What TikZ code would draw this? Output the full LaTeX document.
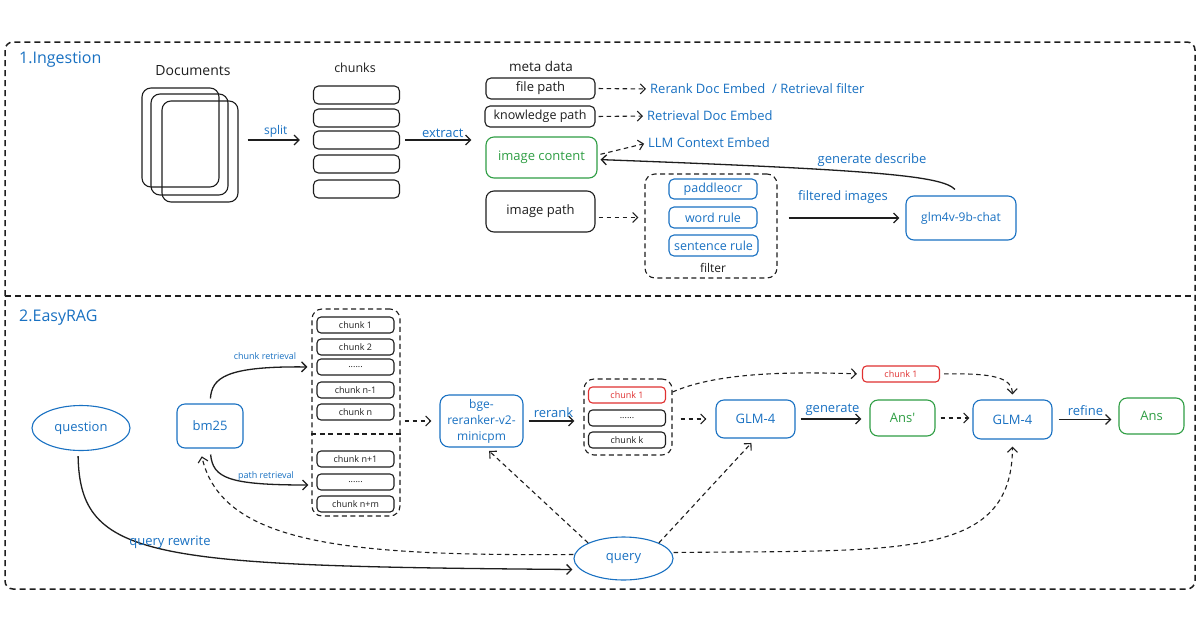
\documentclass[tikz,border=0pt]{standalone}
\usepackage{fontspec}
\setmainfont{Open Sans}
\usetikzlibrary{arrows.meta,shapes.geometric,calc}
\definecolor{eblue}{HTML}{1971C2}
\definecolor{egreen}{HTML}{2F9E44}
\definecolor{ered}{HTML}{E03131}
\definecolor{eink}{HTML}{1E1E1E}
\tikzset{
  fs/.style={font=\fontsize{#1}{#1}\selectfont},
  sz/.style 2 args={minimum width=#1pt, minimum height=#2pt},
  bx/.style={draw=eink, line width=1.1pt, rounded corners=5pt, inner sep=0pt, text=eink, fs=13},
  bbx/.style={bx, draw=eblue, text=eblue},
  gbx/.style={bx, draw=egreen, text=egreen},
  rbx/.style={bx, draw=ered, text=ered},
  ck/.style={bx, rounded corners=4pt, sz={77}{16}, fs=9},
  grp/.style={draw=eink, line width=1.1pt, dash pattern=on 5pt off 3.5pt, rounded corners=10pt, inner sep=0pt},
  lbl/.style={text=eblue, fs=13, inner sep=1pt},
  blk/.style={text=eink, fs=13, inner sep=1pt},
  arr/.style={draw=eink, line width=1.3pt, -{Straight Barb[length=5pt,width=10pt]}},
  darr/.style={draw=eink, line width=1.1pt, dash pattern=on 4.5pt off 3.5pt, -{Straight Barb[length=5pt,width=10pt]}},
}
\begin{document}
\begin{tikzpicture}[x=1pt,y=-1pt]
\useasboundingbox[fill=white] (0,0) rectangle (1200,630);
% outer frame
\draw[draw=eink, line width=1.5pt, dash pattern=on 6pt off 4pt, rounded corners=8pt] (5,42) rectangle (1195,589);
\draw[draw=eink, line width=1.5pt, dash pattern=on 6pt off 4pt] (5,296) -- (1195,296);
\node[lbl, fs=16, anchor=west] (t1) at (18,60) {1.Ingestion};
\node[lbl, fs=16, anchor=west] (t2) at (18,318) {2.EasyRAG};

% ---------- Ingestion ----------
\node[bx, sz={77}{99}, rounded corners=9pt] (d1) at (180.5,137.5) {};
\node[bx, sz={77}{101}, rounded corners=9pt] (d2) at (189.5,144.5) {};
\node[bx, sz={76}{101}, rounded corners=9pt] (d3) at (200,151.5) {};
\node[blk, fs=14] (doclbl) at (193,71) {Documents};

\node[bx, sz={86}{18}] (c1) at (356.5,95) {};
\node[bx, sz={86}{18}] (c2) at (356.5,118) {};
\node[bx, sz={86}{18}] (c3) at (356.5,140) {};
\node[bx, sz={86}{18}] (c4) at (356.5,164) {};
\node[bx, sz={86}{18}] (c5) at (356.5,189) {};
\node[blk, fs=12.5] (chlbl) at (355,68) {chunks};

\node[blk, fs=13.5] (metalbl) at (541,66) {meta data};
\node[bx, sz={109}{21}] (fp) at (540.5,88.5) {file path};
\node[bx, sz={110}{21}, fs=12.5] (kp) at (540,116.5) {knowledge path};
\node[gbx, sz={111}{41}, rounded corners=8pt] (ic) at (541.5,157.5) {image content};
\node[bx, sz={109}{41}, rounded corners=8pt] (ip) at (540.5,211.5) {image path};

\draw[arr, shorten <=9pt, shorten >=13pt] (d3.east |- c3.west) -- (c3.west) node[midway, above, lbl, fs=12, yshift=1pt] (splitlbl) {split};
\draw[arr, shorten <=5pt, shorten >=14pt] (c3.east) -- (c3.east -| ic.west) node[midway, above, lbl, yshift=1pt] (extlbl) {extract};

\node[lbl, anchor=west] (l1) at (649,89) {Rerank Doc Embed\ \ / Retrieval filter};
\node[lbl, anchor=west] (l2) at (646,116) {Retrieval Doc Embed};
\node[lbl, anchor=west] (l3) at (647,143) {LLM Context Embed};
\draw[darr, shorten <=3pt, shorten >=3pt] (fp.east) -- (l1.west);
\draw[darr, shorten <=3pt, shorten >=3pt] (kp.east) -- (l2.west);
\draw[darr, shorten <=3pt, shorten >=3pt] ([yshift=2.5pt]ic.east) -- (l3.west);

\node[grp, sz={132}{104}] (fb) at (711,226) {};
\node[bbx, sz={88}{20}, fs=12.5] (p1) at (713,189) {paddleocr};
\node[bbx, sz={88}{21}, fs=12.5] (p2) at (713,217.5) {word rule};
\node[bbx, sz={89}{21}, fs=12.5] (p3) at (713.5,245.5) {sentence rule};
\node[blk, fs=12] (fl) at (713,268) {filter};
\draw[darr, shorten <=3pt, shorten >=6pt] ([yshift=-6pt]ip.east) -- ([yshift=-6pt]ip.east -| fb.west);

\node[bbx, sz={110}{44}, rounded corners=8pt, fs=12] (glm) at (961,218) {glm4v-9b-chat};
\draw[arr, shorten <=11pt, shorten >=6pt] (fb.east |- glm.west) -- (glm.west);
\node[lbl] (filtlbl) at (843,197) {filtered images};
\draw[arr, shorten >=3pt] ([shift={(-6pt,6pt)}]glm.north) .. controls (942,176) and (880,170) .. ([yshift=-2pt]ic.east);
\node[lbl] (gdlbl) at (872,160) {generate describe};

% ---------- EasyRAG ----------
\node[draw=eblue, line width=1.1pt, ellipse, inner sep=0pt, sz={98}{45}, text=eblue, fs=13] (q) at (81,428) {question};
\node[bbx, sz={66}{44}, rounded corners=8pt] (bm) at (210,426) {bm25};

\node[grp, sz={88}{207}] (cb) at (356,412.5) {};
\draw[draw=eink, line width=1.1pt, dash pattern=on 5pt off 3.5pt] (cb.west |- 0,434) -- (cb.east |- 0,434);
\node[ck] (k1) at (355.5,325) {chunk 1};
\node[ck] (k2) at (355.5,347) {chunk 2};
\node[ck] (k3) at (355.5,367) {......};
\node[ck] (k4) at (355.5,390) {chunk n-1};
\node[ck] (k5) at (355.5,412) {chunk n};
\node[ck] (k6) at (355.5,459) {chunk n+1};
\node[ck] (k7) at (355.5,482) {......};
\node[ck] (k8) at (355.5,504) {chunk n+m};

\draw[arr, shorten <=5pt, shorten >=4pt] (bm.north) .. controls (212,378) and (225,366) .. (cb.west |- k3.center);
\node[lbl, fs=9] (crlbl) at (265,356) {chunk retrieval};
\draw[arr, shorten <=6pt, shorten >=3pt] (bm.south) .. controls (213,478) and (228,485) .. (cb.west |- 0,485);
\node[lbl, fs=9] (prlbl) at (266,476) {path retrieval};

\node[bbx, sz={83}{52}, rounded corners=9pt, align=center, font=\fontsize{12}{16}\selectfont] (bge) at (481.5,421) {bge-\\reranker-v2-\\minicpm};
\draw[darr, shorten <=4pt, shorten >=8pt] (cb.east |- bge.west) -- (bge.west);

\node[grp, sz={88}{76}] (cb2) at (628,417) {};
\node[ck, draw=ered, text=ered] (r1) at (627,395) {chunk 1};
\node[ck] (r2) at (627,418) {......};
\node[ck] (r3) at (627,440) {chunk k};
\draw[arr, shorten <=5pt, shorten >=9pt] (bge.east) -- (bge.east -| cb2.west) node[midway, above, lbl, yshift=2pt] (rrlbl) {rerank};

\node[bbx, sz={79}{38}, rounded corners=8pt] (g1) at (755.5,419) {GLM-4};
\draw[darr, shorten <=8pt, shorten >=9pt] (cb2.east |- g1.west) -- (g1.west);
\node[gbx, sz={65}{36}, rounded corners=8pt] (a1) at (902.5,418) {Ans\textquotesingle};
\draw[arr, shorten <=5pt, shorten >=8pt] (g1.east) -- (g1.east -| a1.west) node[midway, above, lbl, yshift=2pt] (genlbl) {generate};
\node[bbx, sz={79}{39}, rounded corners=8pt] (g2) at (1012.5,419.5) {GLM-4};
\draw[darr, shorten <=5pt, shorten >=3pt] (a1.east) -- (a1.east -| g2.west);
\node[gbx, sz={65}{36}, rounded corners=8pt] (ans) at (1151.5,416) {Ans};
\draw[arr, shorten <=6pt, shorten >=7pt] (g2.east) -- (g2.east -| ans.west) node[midway, above, lbl, yshift=2pt] (reflbl) {refine};

\node[ck, draw=ered, text=ered] (cr) at (901,374) {chunk 1};
\draw[darr, shorten >=5pt] (cb2.east |- 0,392) .. controls (720,371) and (800,372) .. (cr.west);
\draw[darr, shorten <=4pt, shorten >=5pt] (cr.east) .. controls (995,373) and (1012,378) .. (g2.north);

\node[draw=eblue, line width=1.1pt, ellipse, inner sep=0pt, sz={99}{43}, text=eblue, fs=13] (qy) at (623.5,558.5) {query};
\draw[darr, shorten >=8pt] ([yshift=4pt]qy.west) .. controls (350,556) and (222,545) .. ([xshift=-10pt]bm.south);
\draw[darr, shorten >=5pt] (qy.north west) -- ([xshift=4pt]bge.south);
\draw[darr, shorten >=6pt] (qy.north east) -- (g1.south);
\draw[darr, shorten >=7pt] ([yshift=6pt]qy.east) .. controls (900,550) and (1012,560) .. (g2.south);
\draw[arr, shorten <=5pt, shorten >=1pt] ([xshift=-3pt]q.south) .. controls (80,560) and (150,566) .. ([yshift=-11pt]qy.west);
\node[lbl] (qrlbl) at (170,542) {query rewrite};
\end{tikzpicture}
\end{document}
